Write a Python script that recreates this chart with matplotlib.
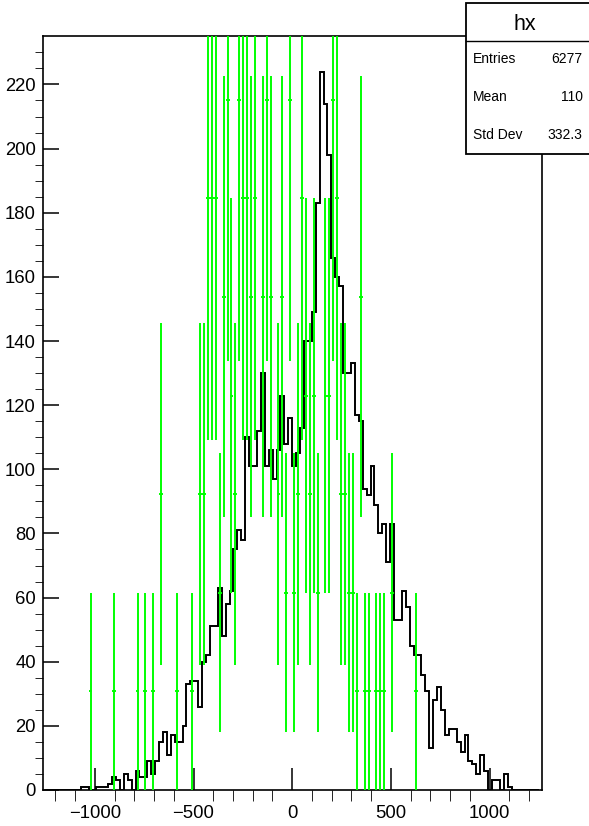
import numpy as np
import matplotlib
matplotlib.use("Agg")
import matplotlib.pyplot as plt
from matplotlib.patches import Rectangle
from matplotlib.lines import Line2D

# ---------------- data ----------------
x_low, x_high, n_bins = -1250.0, 1250.0, 126
black_counts = [0, 0, 0, 0, 0, 0, 0, 0, 0, 1,
                1, 0, 0, 1, 1, 1, 2, 4, 3, 0,
                5, 3, 0, 6, 4, 4, 9, 5, 9, 15,
                18, 11, 17, 15, 15, 20, 33, 34, 34, 26,
                40, 42, 51, 51, 63, 48, 58, 62, 75, 81,
                78, 110, 101, 101, 112, 130, 101, 106, 97, 106,
                123, 108, 116, 101, 105, 113, 140, 140, 149, 183,
                224, 214, 198, 166, 160, 157, 130, 130, 133, 117,
                115, 94, 92, 101, 89, 80, 83, 71, 83, 53,
                53, 62, 57, 45, 42, 42, 36, 31, 13, 28,
                32, 25, 17, 19, 19, 15, 12, 17, 9, 8,
                5, 11, 6, 0, 3, 3, 0, 5, 1, 0,
                0, 0, 0, 0, 0, 0]

green_bin_index = [11, 17, 23, 25, 27, 29, 33, 37, 39, 40, 41, 42, 43, 44, 45, 46, 47, 48,
                   49, 50, 51, 52, 53, 55, 56, 57, 59, 60, 61, 62, 63, 64, 65, 66, 67, 68,
                   69, 71, 72, 73, 74, 75, 76, 77, 78, 79, 80, 81, 82, 84, 85, 86, 88, 94]
green_entries = [1, 1, 1, 1, 1, 3, 1, 1, 3, 3, 6, 6, 6, 2, 5, 7, 4, 3,
                 7, 6, 6, 5, 6, 5, 7, 5, 3, 5, 2, 7, 2, 3, 6, 4, 3, 4,
                 2, 4, 4, 7, 6, 3, 3, 2, 2, 1, 5, 1, 1, 1, 1, 1, 2, 1]
green_weight = 30.75

x_major = [-1000, -500, 0, 500, 1000]
x_labels = ["\u22121000", "\u2212500", "0", "500", "1000"]
y_major = list(range(0, 221, 20))

stats_title = "hx"
stats_rows = [("Entries", "6277"), ("Mean", "110"), ("Std Dev", "332.3")]

# ---------------- figure ----------------
W, H = 589, 826
fig = plt.figure(figsize=(W / 100, H / 100), dpi=100)
plt.rcParams["font.family"] = ["Liberation Sans", "DejaVu Sans"]

L, R, T, B = 42.7, 541.7, 35.7, 790.0
ax = fig.add_axes([L / W, 1 - B / H, (R - L) / W, (B - T) / H])

edges = np.linspace(x_low, x_high, n_bins + 1)
centers = 0.5 * (edges[:-1] + edges[1:])
bw = edges[1] - edges[0]
counts = np.array(black_counts, dtype=float)

ax.stairs(counts, edges, color="black", lw=1.4, baseline=0, zorder=2)

gx = centers[np.array(green_bin_index)]
gn = np.array(green_entries, dtype=float)
gy = gn * green_weight
gerr = np.sqrt(gn) * green_weight
ax.errorbar(gx, gy, yerr=gerr, xerr=bw / 2, fmt="none", ecolor=(0, 1, 0),
            elinewidth=1.4, capsize=0, zorder=3)

ax.set_xlim(-1264, 1264)
ax.set_ylim(0, counts.max() * 1.05)

ax.set_xticks(x_major)
ax.set_xticklabels(x_labels)
ax.set_xticks(np.arange(-1200, 1201, 100), minor=True)
ax.set_yticks(y_major)
ax.set_yticks(np.arange(0, 235, 5), minor=True)

ax.tick_params(axis="both", direction="in", labelsize=13.3, width=1.1, colors="black")
ax.tick_params(axis="x", which="major", length=15.8, pad=11)
ax.tick_params(axis="x", which="minor", length=7.9)
ax.tick_params(axis="y", which="major", length=11.3, pad=5)
ax.tick_params(axis="y", which="minor", length=5.8)
ax.tick_params(top=False, right=False, which="both")
for s in ax.spines.values():
    s.set_linewidth(1.2)

# ---------------- stats box ----------------
bx0, by0, bx1, by1 = 466 / W, 1 - 154 / H, 1.02, 1 - 2.7 / H
fig.patches.append(Rectangle((bx0, by0), bx1 - bx0, by1 - by0, transform=fig.transFigure,
                             facecolor="white", edgecolor="black", lw=1.3, zorder=10))
fig.lines.append(Line2D([bx0, bx1], [1 - 40.7 / H, 1 - 40.7 / H], transform=fig.transFigure,
                        color="black", lw=1.0, zorder=11))
fig.text(525 / W, 1 - 25 / H, stats_title, ha="center", va="center", fontsize=15.5, zorder=12)
row_y = [58.7, 96.7, 135.0]
for (k, v), yy in zip(stats_rows, row_y):
    fig.text(473.3 / W, 1 - yy / H, k, ha="left", va="center", fontsize=10, zorder=12)
    fig.text(582.7 / W, 1 - yy / H, v, ha="right", va="center", fontsize=10, zorder=12)

fig.savefig("out.png", dpi=100)
